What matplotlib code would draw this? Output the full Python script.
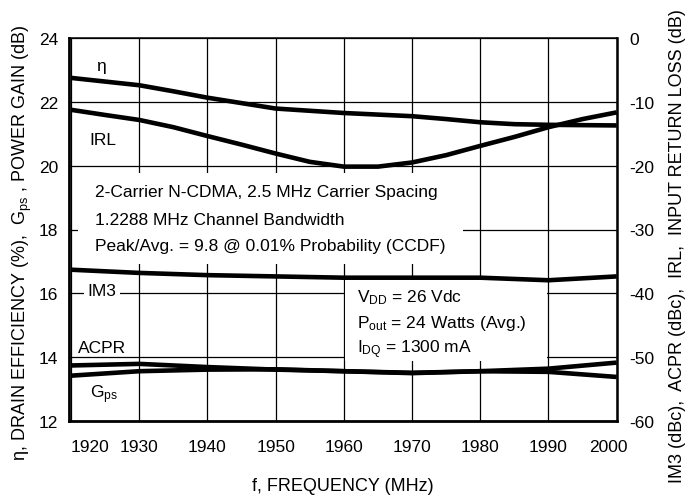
import matplotlib
matplotlib.use("Agg")
import matplotlib.pyplot as plt
from matplotlib.patches import Rectangle
from matplotlib.transforms import ScaledTranslation

plt.rcParams['font.family'] = ['Liberation Sans', 'DejaVu Sans']
plt.rcParams['mathtext.fontset'] = 'custom'
plt.rcParams['mathtext.rm'] = 'Liberation Sans'
plt.rcParams['mathtext.it'] = 'Liberation Sans'
plt.rcParams['axes.unicode_minus'] = False

# ---------------- data ----------------
freq_eta = [1920, 1930, 1935, 1940, 1945, 1950, 1960, 1970, 1975, 1980, 1985, 1990, 2000]
eta = [22.75, 22.52, 22.33, 22.13, 21.96, 21.79, 21.65, 21.55, 21.46, 21.36, 21.30, 21.28, 21.26]  # %, left

freq_irl = [1920, 1925, 1930, 1935, 1940, 1945, 1950, 1955, 1960, 1965, 1970, 1975, 1980, 1985, 1990, 1995, 2000]
irl = [-11.25, -12.06, -12.84, -13.97, -15.36, -16.7, -18.1, -19.4, -20.15, -20.15, -19.5, -18.35,
       -16.9, -15.5, -13.97, -12.7, -11.65]  # dB, right

freq = [1920, 1930, 1940, 1950, 1960, 1970, 1980, 1990, 2000]
gps = [13.42, 13.56, 13.61, 13.62, 13.56, 13.50, 13.56, 13.64, 13.83]        # dB, left
im3 = [-36.3, -36.8, -37.15, -37.35, -37.55, -37.55, -37.55, -37.95, -37.35]  # dBc, right
acpr = [-51.3, -51.05, -51.55, -51.95, -52.2, -52.45, -52.2, -52.3, -53.1]    # dBc, right

xticks = [1920, 1930, 1940, 1950, 1960, 1970, 1980, 1990, 2000]
left_ticks = [12, 14, 16, 18, 20, 22, 24]
right_ticks = [-60, -50, -40, -30, -20, -10, 0]

FS = 12.5
FL = 13
fig = plt.figure(figsize=(6.92, 5.02), dpi=100)
ax = fig.add_axes([69/692, 80/502, 547.7/692, 383/502])
ax.set_xlim(1919.7, 2000)
ax.set_ylim(12, 24)
ax.set_xticks(xticks)
ax.set_yticks(left_ticks)
ax.grid(True, color='black', linewidth=0.9)
ax.set_axisbelow(True)
ax.tick_params(length=0, labelsize=FS)
ax.tick_params(axis='x', pad=13)
ax.tick_params(axis='y', pad=8)
for s in ['left', 'bottom']:
    ax.spines[s].set_linewidth(2.0)
ax.spines['top'].set_linewidth(1.1)
ax.spines['right'].set_linewidth(1.8)

labels = ax.get_xticklabels()
labels[0].set_horizontalalignment('left')
labels[-1].set_transform(labels[-1].get_transform() + ScaledTranslation(-8/100, 0, fig.dpi_scale_trans))

ax2 = ax.twinx()
ax2.set_ylim(-60, 0)
ax2.set_yticks(right_ticks)
ax2.tick_params(length=0, labelsize=FS, pad=9)
for s in ax2.spines.values():
    s.set_visible(False)

lw = 3.3
ax.plot(freq_eta, eta, color='black', lw=lw, zorder=4, solid_capstyle='butt')
ax.plot(freq, gps, color='black', lw=lw, zorder=4, solid_capstyle='butt')
ax2.plot(freq_irl, irl, color='black', lw=lw, zorder=4, solid_capstyle='butt')
ax2.plot(freq, im3, color='black', lw=lw, zorder=4, solid_capstyle='butt')
ax2.plot(freq, acpr, color='black', lw=lw, zorder=4, solid_capstyle='butt')

# white boxes hiding grid
ax.add_patch(Rectangle((0.0164, 0.410), 0.703, 0.237, transform=ax.transAxes,
                       facecolor='white', edgecolor='none', zorder=2))
ax.add_patch(Rectangle((0.504, 0.157), 0.369, 0.219, transform=ax.transAxes,
                       facecolor='white', edgecolor='none', zorder=2))

tk = dict(transform=ax.transAxes, fontsize=FS, zorder=3, va='center')
ax.text(0.058, 0.929, 'η', ha='center', **tk)
ax.text(0.062, 0.734, 'IRL', ha='center', **tk)
ax.text(0.060, 0.342, 'IM3', ha='center',
        bbox=dict(facecolor='white', edgecolor='none', pad=2.5), **tk)
ax.text(0.060, 0.193, 'ACPR', ha='center', **tk)
ax.text(0.064, 0.070, r'G$_{\mathrm{ps}}$', ha='center', **tk)

ax.text(0.0475, 0.598, '2-Carrier N-CDMA, 2.5 MHz Carrier Spacing', ha='left', **tk)
ax.text(0.0475, 0.527, '1.2288 MHz Channel Bandwidth', ha='left', **tk)
ax.text(0.0475, 0.457, 'Peak/Avg. = 9.8 @ 0.01% Probability (CCDF)', ha='left', **tk)

ax.text(0.526, 0.324, r'V$_{\mathrm{DD}}$ = 26 Vdc', ha='left', **tk)
ax.text(0.526, 0.258, r'P$_{\mathrm{out}}$ = 24 Watts (Avg.)', ha='left', **tk)
ax.text(0.526, 0.188, r'I$_{\mathrm{DQ}}$ = 1300 mA', ha='left', **tk)

fig.text(343/692, 1 - 487/502, 'f, FREQUENCY (MHz)', ha='center', va='center', fontsize=FL)
fig.text(22/692, 1 - 243/502, r'η, DRAIN EFFICIENCY (%),  G$_{\mathrm{ps}}$ , POWER GAIN (dB)',
         rotation=90, ha='center', va='center', fontsize=FL)
fig.text(678/692, 1 - 246/502, 'IM3 (dBc),  ACPR (dBc),  IRL,  INPUT RETURN LOSS (dB)',
         rotation=90, ha='center', va='center', fontsize=FL)

fig.savefig('out.png', dpi=100)
